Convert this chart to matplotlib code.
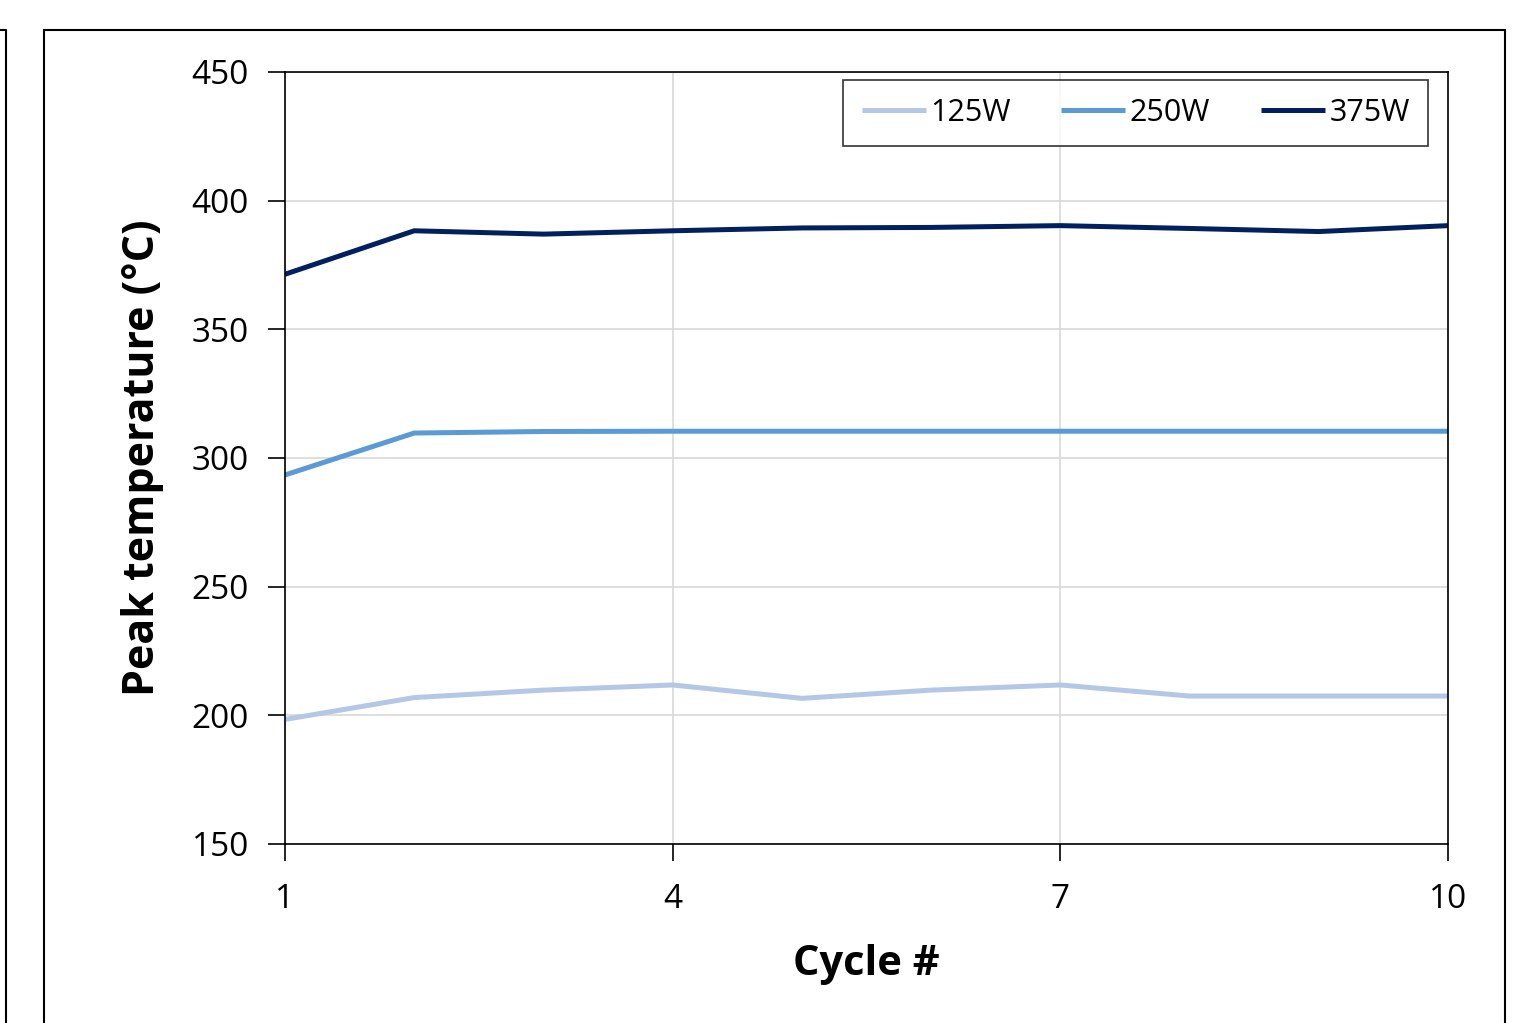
import matplotlib.pyplot as plt
from matplotlib.lines import Line2D
from matplotlib.patches import Rectangle

# Datos
cycles = [1, 2, 3, 4, 5, 6, 7, 8, 9, 10]
t_125 = [198.4, 206.9, 209.8, 211.8, 206.6, 209.8, 211.8, 207.5, 207.5, 207.5]
t_250 = [293.4, 309.7, 310.3, 310.4, 310.4, 310.4, 310.4, 310.4, 310.4, 310.4]
t_375 = [371.4, 388.3, 387.0, 388.3, 389.4, 389.6, 390.3, 389.2, 388.0, 390.3]
labels = ['125W', '250W', '375W']
colors = ['#b4c7e7', '#5b9bd5', '#002060']

plt.rcParams['font.family'] = ['Open Sans', 'DejaVu Sans']

fig = plt.figure(figsize=(15.19, 10.23), dpi=100)
ax = fig.add_axes([285 / 1519, 1 - 844 / 1023, 1163 / 1519, 772 / 1023])

for y, lab, c in zip([t_125, t_250, t_375], labels, colors):
    ax.plot(cycles, y, color=c, lw=3.6, label=lab, solid_capstyle='butt')

ax.set_xlim(1, 10)
ax.set_ylim(150, 450)
ax.set_xticks([1, 4, 7, 10])
ax.set_yticks(range(150, 451, 50))
ax.grid(True, color='#d9d9d9', lw=1.2)
ax.set_axisbelow(True)
for s in ax.spines.values():
    s.set_color('black')
    s.set_linewidth(1.2)
ax.tick_params(direction='out', length=12, width=1.2, labelsize=24, pad=14)
ax.tick_params(axis='x', pad=16)

ax.set_ylabel('Peak temperature (°C)', fontsize=31, fontweight='bold', labelpad=20)
ax.set_xlabel('Cycle #', fontsize=30, fontweight='bold', labelpad=20)

leg = ax.legend(loc='upper right', bbox_to_anchor=(0.983, 0.99), ncol=3, fontsize=22,
                frameon=True, fancybox=False, edgecolor='black', handlelength=2.1,
                handletextpad=0.15, columnspacing=1.65, borderpad=0.6, borderaxespad=0)
leg.get_frame().set_linewidth(1.2)

# marcos de los paneles
fig.patches.append(Rectangle((44 / 1519, -0.1), (1505 - 44) / 1519, 1.1 - 30 / 1023,
                             transform=fig.transFigure, fill=False, ec='black', lw=1.5))
fig.lines.append(Line2D([0, 6 / 1519, 6 / 1519], [1 - 30 / 1023, 1 - 30 / 1023, 0],
                        transform=fig.transFigure, color='black', lw=1.5))

fig.savefig('out.png', dpi=100)
